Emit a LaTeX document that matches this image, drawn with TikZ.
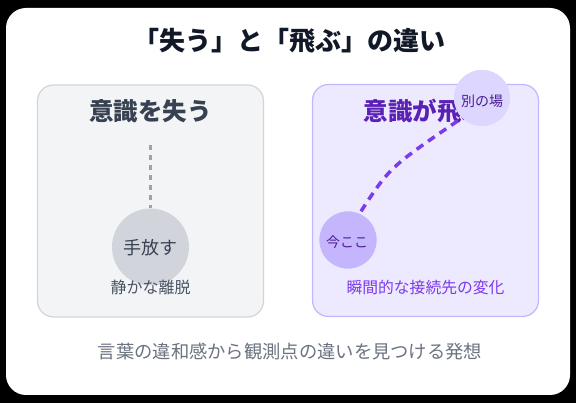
\documentclass[tikz,border=0pt]{standalone}
\usepackage{fontspec}
\setmainfont{Noto Sans CJK JP}
\definecolor{titlec}{HTML}{111827}
\definecolor{grayfill}{HTML}{F3F4F6}
\definecolor{grayline}{HTML}{D1D5DB}
\definecolor{graytext}{HTML}{374151}
\definecolor{graysub}{HTML}{4B5563}
\definecolor{graydash}{HTML}{9CA3AF}
\definecolor{footc}{HTML}{6B7280}
\definecolor{purfill}{HTML}{EDE9FE}
\definecolor{purline}{HTML}{C4B5FD}
\definecolor{purtitle}{HTML}{5B21B6}
\definecolor{purdark}{HTML}{4C1D95}
\definecolor{purmid}{HTML}{7C3AED}
\definecolor{purlight}{HTML}{DDD6FE}
\tikzset{
  panelbox/.style={rounded corners=16pt, minimum width=226pt, minimum height=232pt, line width=1.2pt, inner sep=0pt},
  fsz/.style={font=\fontsize{#1}{#1}\selectfont},
  bsz/.style={font=\bfseries\fontsize{#1}{#1}\selectfont},
  txt/.style={inner sep=0pt, anchor=center},
  bubble/.style={circle, inner sep=0pt}
}
\begin{document}
\begin{tikzpicture}[x=1pt,y=-1pt]
\useasboundingbox (0,0) rectangle (576,403);
\fill[black] (0,0) rectangle (576,403);
\fill[white, rounded corners=20pt] (6,8) rectangle (570,395);

\node[txt, bsz=26, text=titlec] (title) at (289,40.5) {「失う」と「飛ぶ」の違い};

% left panel
\node[panelbox, draw=grayline, fill=grayfill] (lpanel) at (150.5,201) {};
\node[txt, bsz=24.5, text=graytext] (ltitle) at (150.5,111.5) {意識を失う};
\coordinate (ltop) at (150.5,145);
\node[bubble, fill=grayline, minimum size=77pt] (lose) at (150.5,247) {};
\draw[graydash, line width=2.5pt, dash pattern=on 5pt off 5pt] (ltop) -- (lose.north);
\node[txt, fsz=18, text=graytext] (losetxt) at (150.5,247.5) {手放す};
\node[txt, fsz=16, text=graysub] (lsub) at (150.5,287) {静かな離脱};

% right panel
\node[panelbox, draw=purline, fill=purfill] (rpanel) at (425.5,200.5) {};
\node[txt, bsz=24.5, text=purtitle] (rtitle) at (425,111.5) {意識が飛ぶ};
\node[bubble, fill=purline, minimum size=57pt] (here) at (348,240) {};
\node[bubble, fill=purlight, minimum size=56pt] (there) at (482,98) {};
\draw[purmid, line width=3.5pt, dash pattern=on 8pt off 6pt] (here.north) ++(13,0)
  .. controls (390,167) .. (there.south west);
\node[bubble, fill=purline, minimum size=57pt] at (here.center) {};
\node[bubble, fill=purlight, minimum size=56pt] at (there.center) {};
\node[txt, fsz=14, text=purdark] (heretxt) at (347,242) {今ここ};
\node[txt, fsz=14, text=purdark] (theretxt) at (482,101.5) {別の場};
\node[txt, fsz=15.8, text=purmid] (rsub) at (425.5,287.5) {瞬間的な接続先の変化};

\node[txt, fsz=18.3, text=footc] (foot) at (290,351.5) {言葉の違和感から観測点の違いを見つける発想};
\end{tikzpicture}
\end{document}
